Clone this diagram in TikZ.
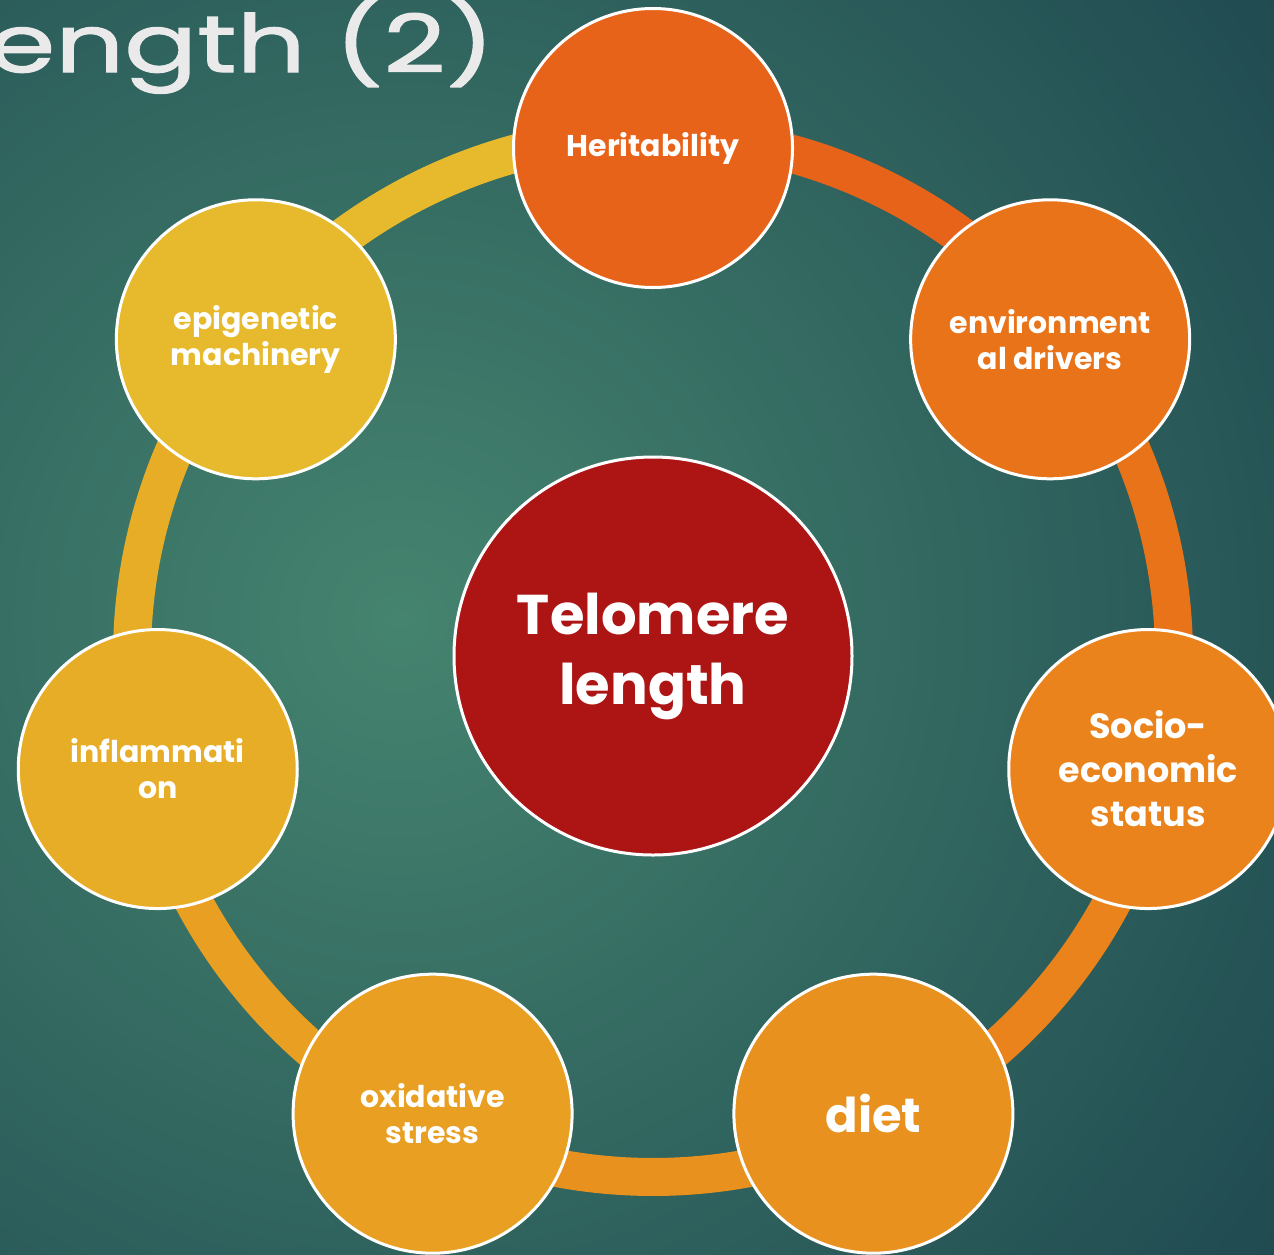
\documentclass[tikz,border=0pt]{standalone}
\usepackage{fontspec}
\setmainfont{Poppins}
\newfontfamily\titlefont[FakeStretch=1.35, FakeBold=1.6]{Poppins}

\definecolor{fundoclaro}{HTML}{45846F}
\definecolor{fundoescuro}{HTML}{183F4B}
\definecolor{corTitulo}{HTML}{EAEAEA}
\definecolor{corCentro}{HTML}{AD1414}
\definecolor{corA}{HTML}{E8631A}
\definecolor{corB}{HTML}{E97318}
\definecolor{corC}{HTML}{EA831C}
\definecolor{corD}{HTML}{E8911F}
\definecolor{corE}{HTML}{E89F22}
\definecolor{corF}{HTML}{E8AD27}
\definecolor{corG}{HTML}{E6BA2C}

\begin{document}
\begin{tikzpicture}[
        x=1pt, y=-1pt,
        fator/.style={
            circle,
            draw=white,
            line width=3pt,
            minimum size=279pt,
            inner sep=0pt,
            text=white,
            align=center,
            font=\bfseries\fontsize{30}{36}\selectfont
        },
        anel/.style={line width=38pt}
    ]

    \useasboundingbox (0,0) rectangle (1274,1254);

    % Fundo
    \fill[fundoescuro] (0,0) rectangle (1274,1254);
    \begin{scope}
        \clip (0,0) rectangle (1274,1254);
        \shade[inner color=fundoclaro, outer color=fundoescuro] (400,620) circle (1300);

        \node[anchor=base west, text=corTitulo, inner sep=0pt,
              font=\titlefont\fontsize{80}{80}\selectfont] (titulo) at (-12,72) {ength (2)};
    \end{scope}

    \coordinate (o) at (653,656);

    % Anel
    \def\passo{51.4286}
    \foreach \cor [count=\i from 0] in {corA,corB,corC,corD,corE,corF,corG} {
        \draw[anel, \cor] (o) ++(-90+\i*\passo:521)
            arc[start angle=-90+\i*\passo, delta angle=\passo, radius=521];
    }

    % Fatores
    \node[fator, fill=corA] (her) at ([shift={(-90:508)}]o) {Heritability};
    \node[fator, fill=corB] (amb) at ([shift={(-90+\passo:508)}]o) {environment\\al drivers};
    \node[fator, fill=corC, font=\bfseries\fontsize{35}{44}\selectfont] (soc)
        at ([shift={(-90+2*\passo:508)}]o) {Socio-\\economic\\status};
    \node[fator, fill=corD, font=\bfseries\fontsize{48}{56}\selectfont] (die)
        at ([shift={(-90+3*\passo:508)}]o) {diet};
    \node[fator, fill=corE] (oxi) at ([shift={(-90+4*\passo:508)}]o) {oxidative\\stress};
    \node[fator, fill=corF] (inf) at ([shift={(-90+5*\passo:508)}]o) {inflammati\\on};
    \node[fator, fill=corG] (epi) at ([shift={(-90+6*\passo:508)}]o) {epigenetic\\machinery};

    % Centro
    \node[fator, fill=corCentro, minimum size=398pt,
          font=\bfseries\fontsize{56}{70}\selectfont] (tel) at (o) {Telomere\\length};

\end{tikzpicture}
\end{document}
